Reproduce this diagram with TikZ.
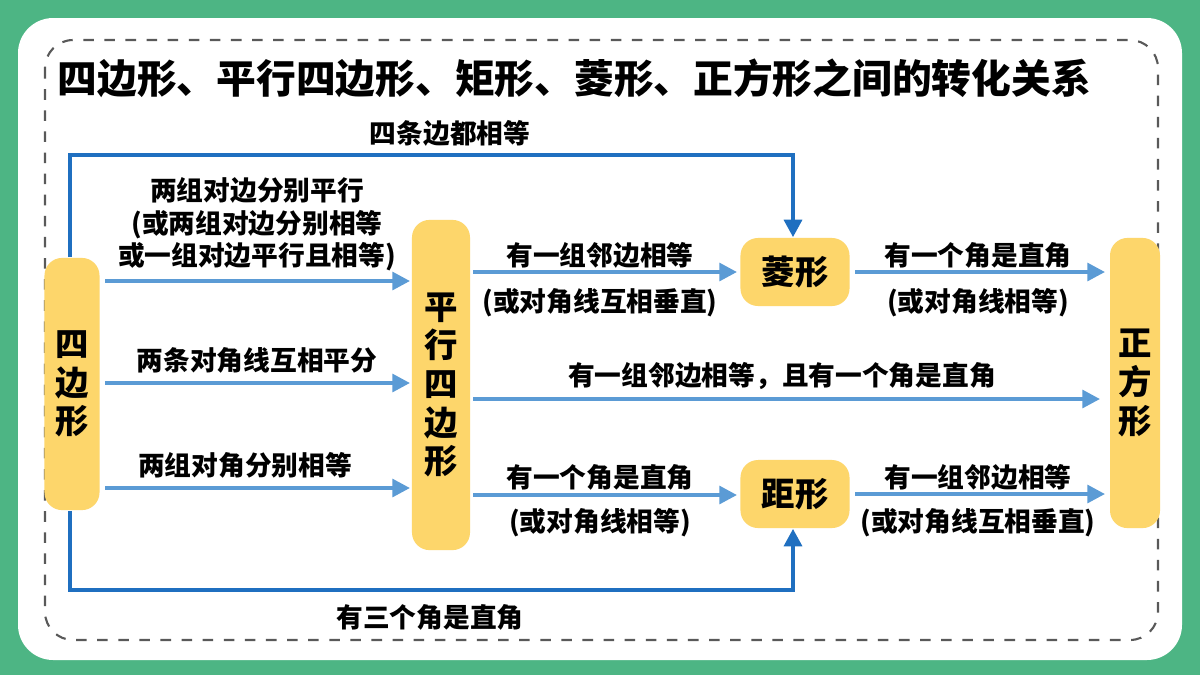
\documentclass[tikz,border=0pt]{standalone}
\usepackage{fontspec}
\setmainfont{Noto Sans CJK SC}
\usepackage{tikz}
\usetikzlibrary{arrows.meta,positioning}
\definecolor{bggreen}{HTML}{4DB584}
\definecolor{boxyellow}{HTML}{FDD66B}
\definecolor{arrowblue}{HTML}{5B9BD5}
\definecolor{darkblue}{HTML}{1F6FC0}
\begin{document}
\begin{tikzpicture}[x=0.01cm,y=-0.01cm]
      \useasboundingbox(0,0) rectangle (1200,675);
      \tikzset{B/.style = {fill=boxyellow, rounded corners=5pt, inner sep=0pt, font=\fontsize{9.5pt}{11pt}\selectfont\bfseries, align=center}}
      \tikzset{E/.style = {draw=arrowblue, line width=1.1pt, -{Triangle[length=5pt,width=5pt]}}}
      \tikzset{F/.style = {draw=darkblue, line width=1.4pt, -{Triangle[length=5pt,width=5pt]}}}
      \tikzset{L/.style = {font=\fontsize{7.6pt}{9pt}\selectfont\bfseries, inner sep=1pt}}
      \fill[bggreen] (0,0) rectangle (1200,675);
      \fill[white, rounded corners=10pt] (18,18) rectangle (1182,660);
      \draw[gray!70!black, dashed, line width=0.6pt, rounded corners=8pt] (45,40) rectangle (1158,640);
      \node[anchor=west, font=\fontsize{11.3pt}{13pt}\selectfont\bfseries, inner sep=0pt] (title) at (57,78) {四边形、平行四边形、矩形、菱形、正方形之间的转化关系};
      % boxes
      \node[B, minimum width=0.55cm, minimum height=2.52cm] (q) at (72,384) {四\\边\\形};
      \node[B, minimum width=0.58cm, minimum height=3.3cm] (p) at (441,385) {平\\行\\四\\边\\形};
      \node[B, minimum width=1.09cm, minimum height=0.68cm] (r) at (795,272) {菱形};
      \node[B, minimum width=1.09cm, minimum height=0.68cm] (j) at (795,494) {距形};
      \node[B, minimum width=0.5cm, minimum height=2.9cm] (s) at (1135,383) {正\\方\\形};
      % quadrilateral -> parallelogram
      \coordinate (a1) at (105,281); \coordinate (b1) at (410,281);
      \draw[E] (a1) -- (b1);
      \node[L] (l1) at (257,190) {两组对边分别平行};
      \node[L] (l2) at (257,225) {(或两组对边分别相等};
      \node[L] (l3) at (257,257) {或一组对边平行且相等)};
      \coordinate (a2) at (105,383); \coordinate (b2) at (410,383);
      \draw[E] (a2) -- (b2);
      \node[L] (l4) at (257,360) {两条对角线互相平分};
      \coordinate (a3) at (105,488); \coordinate (b3) at (410,488);
      \draw[E] (a3) -- (b3);
      \node[L] (l5) at (245,465) {两组对角分别相等};
      % parallelogram -> others
      \coordinate (a4) at (473,272); \coordinate (b4) at (737,272);
      \draw[E] (a4) -- (b4);
      \node[L] (l6) at (600,255) {有一组邻边相等};
      \node[L] (l7) at (600,303) {(或对角线互相垂直)};
      \coordinate (a5) at (473,399); \coordinate (b5) at (1100,399);
      \draw[E] (a5) -- (b5);
      \node[L] (l8) at (782,376) {有一组邻边相等，且有一个角是直角};
      \coordinate (a6) at (473,495); \coordinate (b6) at (737,495);
      \draw[E] (a6) -- (b6);
      \node[L] (l9) at (600,477) {有一个角是直角};
      \node[L] (l10) at (600,523) {(或对角线相等)};
      % rhombus, rectangle -> square
      \coordinate (a7) at (855,272); \coordinate (b7) at (1105,272);
      \draw[E] (a7) -- (b7);
      \node[L] (l11) at (978,255) {有一个角是直角};
      \node[L] (l12) at (978,303) {(或对角线相等)};
      \coordinate (a8) at (855,494); \coordinate (b8) at (1105,494);
      \draw[E] (a8) -- (b8);
      \node[L] (l13) at (978,477) {有一组邻边相等};
      \node[L] (l14) at (978,523) {(或对角线互相垂直)};
      % outer paths
      \draw[F] (q.north -| 70,0) |- (793,155) -- (r.north -| 793,0);
      \node[L] (l15) at (450,133) {四条边都相等};
      \draw[F] (q.south -| 70,0) |- (793,590) -- (j.south -| 793,0);
      \node[L] (l16) at (430,617) {有三个角是直角};
\end{tikzpicture}
\end{document}
